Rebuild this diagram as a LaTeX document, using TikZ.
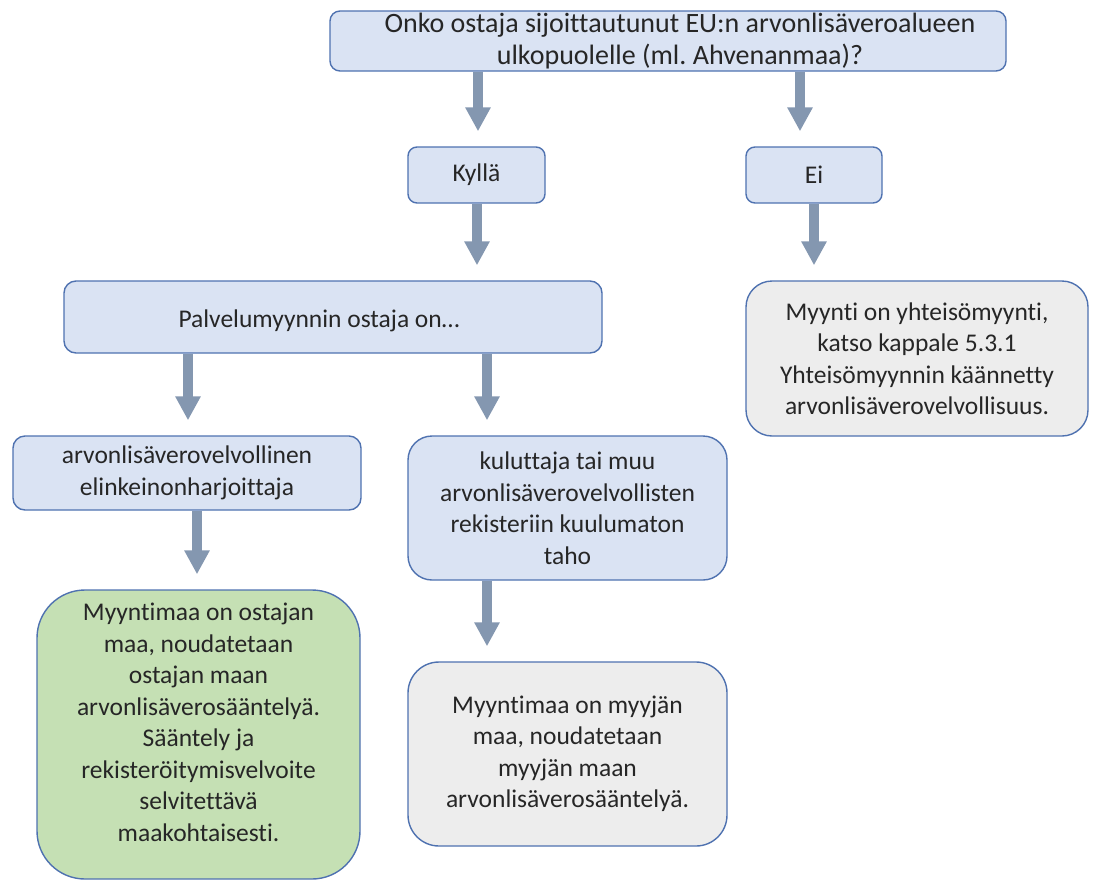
\documentclass[tikz,border=0pt]{standalone}
\usepackage{fontspec}
\setmainfont{Carlito}[Ligatures=NoCommon]
\usetikzlibrary{arrows.meta}
\frenchspacing
\definecolor{boxblue}{HTML}{DAE3F3}
\definecolor{boxgrey}{HTML}{EDEDED}
\definecolor{boxgreen}{HTML}{C5E0B4}
\definecolor{boxline}{HTML}{4F72B0}
\definecolor{flowarrow}{HTML}{8497B0}
\tikzset{
  cardfont/.style={font=\fontsize{25.5}{31.5}\selectfont, text=black!85},
  card/.style={draw=boxline, line width=1.4pt, align=center, inner sep=0pt, cardfont},
  bluecard/.style={card, fill=boxblue},
  greycard/.style={card, fill=boxgrey},
  greencard/.style={card, fill=boxgreen},
  flow/.style={draw=flowarrow, line width=10pt,
    -{Triangle[width=24pt,length=24pt]}, shorten >=15pt}
}
\begin{document}
\begin{tikzpicture}[x=1pt, y=-1pt]
\useasboundingbox (0,0) rectangle (1094,881);

% boxes
\node[bluecard, minimum width=676pt, minimum height=60pt, rounded corners=10pt,
  label={[text=black!85, align=center, font=\fontsize{28}{32}\selectfont, xshift=12pt]center:Onko ostaja sijoittautunut EU:n arvonlisäveroalueen\\ulkopuolelle (ml. Ahvenanmaa)?}]
  (q) at (668,41) {};
\node[bluecard, minimum width=137pt, minimum height=56pt, rounded corners=9pt]
  (yes) at (476.5,175) {Kyllä};
\node[bluecard, minimum width=136pt, minimum height=56pt, rounded corners=9pt]
  (no) at (814,175) {Ei};
\node[bluecard, minimum width=538pt, minimum height=72pt, rounded corners=12pt,
  label={[cardfont, xshift=-14pt, yshift=-4pt]center:Palvelumyynnin ostaja on…}]
  (buyer) at (333,317) {};
\node[bluecard, minimum width=348pt, minimum height=74pt, rounded corners=12pt]
  (trader) at (187,473) {arvonlisäverovelvollinen\\elinkeinonharjoittaja};
\node[bluecard, minimum width=319pt, minimum height=144pt, rounded corners=24pt]
  (consumer) at (567.5,508) {kuluttaja tai muu\\arvonlisäverovelvollisten\\rekisteriin kuulumaton\\taho};
\node[greycard, minimum width=342pt, minimum height=155pt, rounded corners=26pt]
  (intra) at (917,358.5) {Myynti on yhteisömyynti,\\katso kappale 5.3.1\\Yhteisömyynnin käännetty\\arvonlisäverovelvollisuus.};
\node[greencard, minimum width=323pt, minimum height=289pt, rounded corners=48pt,
  label={[cardfont, align=center, yshift=12pt]center:Myyntimaa on ostajan\\maa, noudatetaan\\ostajan maan\\arvonlisäverosääntelyä.\\Sääntely ja\\rekisteröitymisvelvoite\\selvitettävä\\maakohtaisesti.}]
  (buyercountry) at (198.5,734.5) {};
\node[greycard, minimum width=319pt, minimum height=184pt, rounded corners=31pt]
  (sellercountry) at (567.5,754) {Myyntimaa on myyjän\\maa, noudatetaan\\myyjän maan\\arvonlisäverosääntelyä.};

% arrow columns
\coordinate (c1) at (478,0);
\coordinate (c2) at (800,0);
\coordinate (c3) at (477,0);
\coordinate (c4) at (814,0);
\coordinate (c5) at (188,0);
\coordinate (c6) at (487,0);
\coordinate (c7) at (197,0);

% connectors
\draw[flow] (q.south -| c1) -- (yes.north -| c1);
\draw[flow] (q.south -| c2) -- (no.north -| c2);
\draw[flow] (yes.south -| c3) -- (buyer.north -| c3);
\draw[flow] (no.south -| c4) -- (intra.north -| c4);
\draw[flow] (buyer.south -| c5) -- (trader.north -| c5);
\draw[flow] (buyer.south -| c6) -- (consumer.north -| c6);
\draw[flow] (trader.south -| c7) -- (buyercountry.north -| c7);
\draw[flow] (consumer.south -| c6) -- (sellercountry.north -| c6);
\end{tikzpicture}
\end{document}
